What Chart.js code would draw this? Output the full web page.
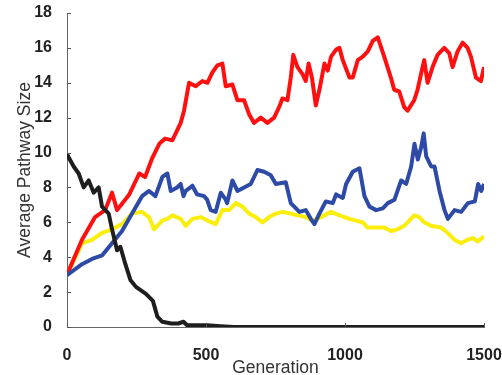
<!DOCTYPE html>
<html>
<head>
<meta charset="utf-8">
<script src="https://cdn.jsdelivr.net/npm/chart.js@4"></script>
<style>
  html, body { margin: 0; padding: 0; background: #fff; }
  #wrap { width: 502px; height: 375px; }
</style>
</head>
<body>
<div id="wrap"><canvas id="pathways"></canvas></div>
<script>
// values (generation, average pathway size)
const redGen = [0, 54, 101, 137, 162, 180, 224, 260, 281, 307, 332, 353, 379, 409, 421, 439, 463, 487, 505, 523, 541, 559, 571, 595, 613, 637, 655, 673, 697, 721, 745, 763, 775, 793, 805, 814, 829, 847, 859, 869, 881, 895, 908, 926, 938, 950, 968, 980, 992, 1016, 1028, 1046, 1064, 1082, 1100, 1118, 1141, 1165, 1177, 1195, 1213, 1225, 1249, 1261, 1279, 1285, 1297, 1315, 1333, 1357, 1375, 1387, 1405, 1423, 1441, 1453, 1471, 1489, 1500];
const redSize = [3.0, 5.0, 6.3, 6.7, 7.7, 6.7, 7.6, 8.8, 8.6, 9.7, 10.5, 10.8, 10.7, 11.7, 12.4, 14.0, 13.8, 14.1, 14.0, 14.6, 15.0, 15.1, 13.8, 13.9, 13.0, 13.0, 12.2, 11.7, 12.0, 11.7, 12.0, 12.6, 13.1, 13.0, 14.3, 15.6, 14.9, 14.5, 14.1, 15.1, 14.3, 12.7, 13.6, 15.1, 14.7, 15.5, 15.9, 16.0, 15.3, 14.3, 14.3, 15.3, 15.5, 15.8, 16.4, 16.6, 15.5, 14.3, 13.6, 13.5, 12.6, 12.4, 13.0, 13.6, 14.9, 15.3, 14.0, 14.9, 15.6, 16.0, 15.7, 14.9, 15.8, 16.3, 16.0, 15.5, 14.3, 14.1, 14.9];

const blueGen = [0, 54, 90, 126, 162, 198, 234, 270, 295, 318, 343, 361, 373, 396, 409, 419, 427, 444, 451, 468, 493, 504, 517, 535, 553, 571, 576, 595, 613, 637, 661, 685, 709, 733, 751, 787, 805, 836, 859, 877, 890, 908, 931, 956, 968, 992, 1004, 1028, 1052, 1070, 1088, 1112, 1136, 1154, 1178, 1202, 1220, 1238, 1250, 1262, 1274, 1283, 1292, 1310, 1322, 1340, 1358, 1370, 1394, 1418, 1442, 1467, 1479, 1490, 1500];
const blueSize = [2.97, 3.6, 3.9, 4.1, 4.8, 5.5, 6.5, 7.5, 7.8, 7.5, 8.6, 8.8, 7.8, 8.0, 8.2, 7.5, 7.8, 8.0, 8.1, 7.6, 7.5, 7.3, 6.7, 6.6, 7.7, 7.3, 7.1, 8.4, 7.8, 8.0, 8.2, 9.0, 8.9, 8.7, 8.2, 8.3, 7.1, 6.6, 6.7, 6.2, 5.9, 6.5, 7.2, 7.1, 7.6, 7.4, 8.2, 8.9, 9.1, 7.5, 6.9, 6.7, 6.8, 7.1, 7.3, 8.4, 8.2, 9.2, 10.5, 9.6, 10.3, 11.1, 9.8, 9.2, 9.2, 7.8, 6.7, 6.2, 6.7, 6.6, 7.1, 7.2, 8.2, 7.8, 8.2];

const yellowGen = [0, 54, 90, 126, 162, 198, 234, 270, 295, 313, 343, 361, 379, 409, 427, 451, 481, 505, 535, 559, 583, 607, 631, 655, 679, 703, 727, 751, 775, 805, 829, 859, 884, 913, 950, 980, 1016, 1040, 1064, 1081, 1117, 1141, 1165, 1189, 1213, 1237, 1249, 1267, 1285, 1309, 1345, 1369, 1394, 1417, 1441, 1459, 1478, 1500];
const yellowSize = [3.0, 4.8, 5.0, 5.4, 5.6, 5.9, 6.5, 6.6, 6.3, 5.6, 6.1, 6.2, 6.4, 6.2, 5.8, 6.2, 6.3, 6.1, 5.9, 6.7, 6.7, 7.1, 6.9, 6.5, 6.3, 6.0, 6.3, 6.5, 6.6, 6.5, 6.4, 6.3, 6.1, 6.3, 6.6, 6.4, 6.2, 6.1, 6.0, 5.7, 5.7, 5.7, 5.5, 5.6, 5.8, 6.2, 6.4, 6.3, 6.0, 5.8, 5.7, 5.4, 5.0, 4.8, 5.0, 5.1, 4.9, 5.2];

const blackGen = [0, 24, 42, 60, 78, 96, 114, 126, 150, 162, 180, 192, 210, 228, 248, 284, 309, 325, 343, 375, 400, 419, 432, 504, 552, 600, 1500];
const blackSize = [9.9, 9.2, 8.8, 8.0, 8.4, 7.7, 8.0, 6.9, 6.5, 5.6, 4.4, 4.6, 3.6, 2.7, 2.3, 1.9, 1.5, 0.6, 0.3, 0.2, 0.2, 0.3, 0.1, 0.1, 0.05, 0, 0];

const xTicks = [0, 500, 1000, 1500];
const yTicks = [0, 2, 4, 6, 8, 10, 12, 14, 16, 18];

const toPoints = (gens, sizes) => gens.map((g, i) => ({x: g, y: sizes[i]}));

const line = (points, color) => ({
  data: points,
  borderColor: color,
  borderWidth: 4,
  borderJoinStyle: 'round',
  pointRadius: 0,
  tension: 0,
  fill: false
});

// small tick marks pointing into the plot, like the original figure
const innerTicks = {
  id: 'innerTicks',
  afterDatasetsDraw(chart) {
    const {ctx, chartArea, scales: {x, y}} = chart;
    ctx.save();
    ctx.strokeStyle = '#555';
    ctx.lineWidth = 1;
    ctx.beginPath();
    xTicks.forEach(v => {
      const px = Math.round(x.getPixelForValue(v)) + 0.5;
      ctx.moveTo(px, chartArea.bottom);
      ctx.lineTo(px, chartArea.bottom - 4);
    });
    yTicks.forEach(v => {
      const py = Math.round(y.getPixelForValue(v)) + 0.5;
      ctx.moveTo(chartArea.left, py);
      ctx.lineTo(chartArea.left + 4, py);
    });
    ctx.stroke();
    ctx.restore();
  }
};

const tickFont = { family: 'Liberation Sans, Arial', size: 16, weight: 'bold' };

const ctx = document.getElementById('pathways').getContext('2d');
const pathways = new Chart(ctx, {
  type: 'line',
  data: {
    datasets: [
      line(toPoints(blackGen, blackSize), '#1e1e1e'),
      line(toPoints(blueGen, blueSize), '#2c4aa6'),
      line(toPoints(redGen, redSize), '#ff1010'),
      line(toPoints(yellowGen, yellowSize), '#fbee0c')
    ]
  },
  options: {
    responsive: true,
    maintainAspectRatio: false,
    animation: false,
    layout: {
      padding: {left: 0, right: 18, top: 13, bottom: 0}
    },
    plugins: {
      legend: { display: false },
      tooltip: { enabled: false }
    },
    scales: {
      x: {
        type: 'linear',
        min: 0,
        max: 1500,
        afterFit(scale) {
          scale.height = 48;
          scale.paddingLeft = 0;
          scale.paddingRight = 0;
        },
        afterBuildTicks(scale) { scale.ticks = xTicks.map(v => ({value: v})); },
        grid: { display: false },
        border: { display: true, color: '#666', width: 1 },
        ticks: {
          padding: 11,
          maxRotation: 0,
          color: '#222',
          font: tickFont,
          callback: v => String(v)
        },
        title: {
          display: true,
          text: 'Generation',
          color: '#333',
          padding: 0,
          font: { family: 'Liberation Sans, Arial', size: 17.5, lineHeight: 0.8 }
        }
      },
      y: {
        min: 0,
        max: 18,
        afterFit(scale) {
          scale.width = 67;
          scale.paddingTop = 0;
          scale.paddingBottom = 0;
        },
        afterBuildTicks(scale) { scale.ticks = yTicks.map(v => ({value: v})); },
        grid: { display: false },
        border: { display: true, color: '#666', width: 1 },
        ticks: {
          padding: 7,
          color: '#222',
          font: tickFont,
          callback: v => String(v)
        },
        title: {
          display: true,
          text: 'Average Pathway Size',
          color: '#333',
          padding: {top: 15, bottom: 0},
          font: { family: 'Liberation Sans, Arial', size: 17.5 }
        }
      }
    }
  },
  plugins: [innerTicks]
});
</script>
</body>
</html>
